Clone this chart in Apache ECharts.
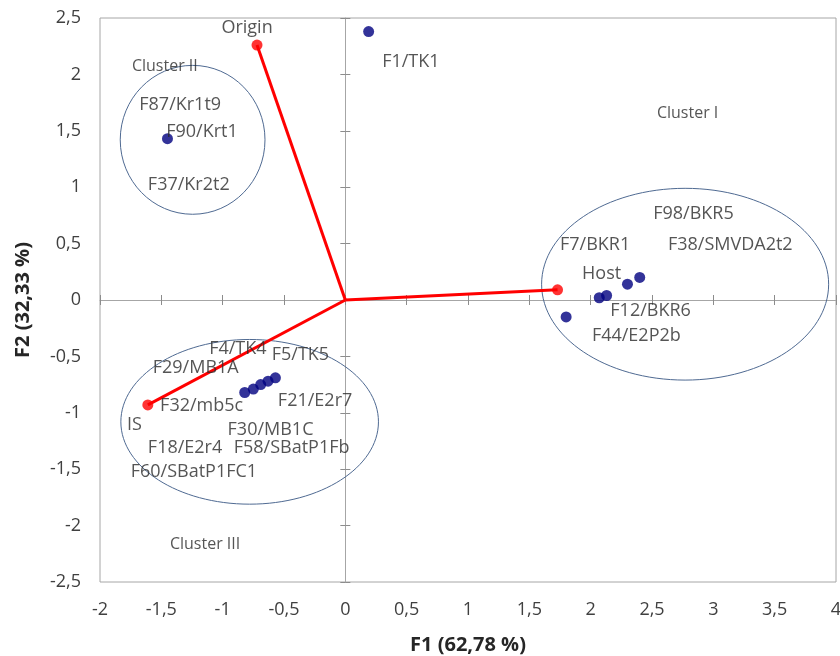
<!DOCTYPE html>
<html>
<head>
<meta charset="utf-8">
<script src="https://cdn.jsdelivr.net/npm/echarts@6/dist/echarts.min.js"></script>
<style>
html, body { margin: 0; padding: 0; background: #fff; }
#main { width: 840px; height: 656px; }
</style>
</head>
<body>
<div id="main"></div>
<script>
// points (F1, F2)
var bluePoints = [
	[0.19, 2.38],
	[-1.45, 1.43],
	[-0.82, -0.82], [-0.75, -0.79], [-0.69, -0.75], [-0.63, -0.72], [-0.57, -0.69],
	[2.40, 0.20], [2.30, 0.14], [2.13, 0.04], [2.07, 0.02], [1.80, -0.15]
];
// variables: Origin, Host, IS
var redVectors = [
	[-0.72, 2.26],
	[1.73, 0.09],
	[-1.61, -0.93]
];
// cluster ellipses: centre x, centre y, radius x, radius y (axis units)
var clusters = [
	[-1.245, 1.42, 0.59, 0.66],
	[-0.78, -1.08, 1.05, 0.73],
	[2.77, 0.14, 1.17, 0.85]
];
// text labels: x, y (left edge), text
var labels = [
	[-1.01, 2.41, 'Origin'],
	[-1.74, 2.07, 'Cluster II', 'small'],
	[-1.68, 1.73, 'F87/Kr1t9'],
	[-1.46, 1.49, 'F90/Krt1'],
	[-1.61, 1.02, 'F37/Kr2t2'],
	[0.30, 2.11, 'F1/TK1'],
	[2.54, 1.65, 'Cluster I', 'small'],
	[2.51, 0.76, 'F98/BKR5'],
	[1.75, 0.49, 'F7/BKR1'],
	[2.63, 0.49, 'F38/SMVDA2t2'],
	[1.93, 0.23, 'Host'],
	[2.16, -0.10, 'F12/BKR6'],
	[2.01, -0.32, 'F44/E2P2b'],
	[-1.11, -0.43, 'F4/TK4'],
	[-0.60, -0.49, 'F5/TK5'],
	[-1.57, -0.60, 'F29/MB1A'],
	[-1.51, -0.94, 'F32/mb5c'],
	[-0.55, -0.89, 'F21/E2r7'],
	[-1.78, -1.11, 'IS'],
	[-0.96, -1.15, 'F30/MB1C'],
	[-1.61, -1.31, 'F18/E2r4'],
	[-0.91, -1.31, 'F58/SBatP1Fb'],
	[-1.75, -1.52, 'F60/SBatP1FC1'],
	[-1.43, -2.17, 'Cluster III', 'small']
];
var xName = 'F1 (62,78 %)';
var yName = 'F2 (32,33 %)';

var fontFam = '"Open Sans", "Liberation Sans", sans-serif';
function fmt(v) { return String(v).replace('.', ','); }

var chart = echarts.init(document.getElementById('main'));

var series = [];
series.push({
	type: 'custom',
	renderItem: function (params, api) {
		var c = api.coord([api.value(0), api.value(1)]);
		var s = api.size([api.value(2), api.value(3)]);
		return {
			type: 'ellipse',
			shape: { cx: c[0], cy: c[1], rx: s[0], ry: s[1] },
			style: { fill: 'none', stroke: '#4f6a92', lineWidth: 1 }
		};
	},
	data: clusters,
	silent: true,
	z: 1
});
redVectors.forEach(function (v) {
	series.push({
		type: 'line',
		data: [[0, 0], v],
		showSymbol: false,
		lineStyle: { color: '#ff0000', width: 3 },
		silent: true,
		z: 3
	});
});
series.push({
	type: 'scatter',
	data: redVectors,
	symbolSize: 11,
	itemStyle: { color: '#ff0000' },
	z: 4
});
series.push({
	type: 'scatter',
	data: bluePoints,
	symbolSize: 11,
	itemStyle: { color: '#000080' },
	z: 4
});
series.push({
	type: 'scatter',
	data: labels.map(function (l) {
		return {
			value: [l[0], l[1]],
			label: l[3] === 'small' ? { fontSize: 16 } : {}
		};
	}),
	symbolSize: 0,
	label: {
		show: true,
		position: 'right',
		distance: 0,
		fontFamily: fontFam,
		fontSize: 18,
		color: '#2b2b2b',
		formatter: function (p) { return labels[p.dataIndex][2]; }
	},
	silent: true,
	z: 5
});

var tickStyle = { color: '#8c8c8c', width: 1 };
var option = {
	backgroundColor: '#fff',
	animation: false,
	grid: {
		left: 100, right: 4, top: 18, bottom: 74,
		outerBoundsMode: 'none',
		containLabel: false,
		show: true, borderColor: '#a6a6a6', borderWidth: 1
	},
	xAxis: [{
		type: 'value', min: -2, max: 4, interval: 0.5, position: 'bottom',
		axisLine: { show: false, onZero: false },
		axisTick: { show: false },
		splitLine: { show: false },
		axisLabel: { formatter: fmt, fontSize: 18, color: '#404040', fontFamily: fontFam, margin: 19 },
		name: xName, nameLocation: 'middle', nameGap: 53,
		nameTextStyle: { fontSize: 20, fontWeight: 'bold', color: '#262626', fontFamily: fontFam }
	}, {
		type: 'value', min: -2, max: 4, interval: 0.5, position: 'bottom',
		axisLine: { show: true, onZero: true, onZeroAxisIndex: 0, lineStyle: { color: '#a6a6a6', width: 1 } },
		axisTick: { show: true, length: 5, lineStyle: tickStyle },
		splitLine: { show: false },
		axisLabel: { show: false }
	}, {
		type: 'value', min: -2, max: 4, interval: 0.5, position: 'bottom',
		axisLine: { show: false, onZero: true, onZeroAxisIndex: 0 },
		axisTick: { show: true, inside: true, length: 5, lineStyle: tickStyle },
		splitLine: { show: false },
		axisLabel: { show: false }
	}],
	yAxis: [{
		type: 'value', min: -2.5, max: 2.5, interval: 0.5, position: 'left',
		axisLine: { show: false, onZero: false },
		axisTick: { show: false },
		splitLine: { show: false },
		axisLabel: { formatter: fmt, fontSize: 18, color: '#404040', fontFamily: fontFam, margin: 19 },
		name: yName, nameLocation: 'middle', nameGap: 67,
		nameTextStyle: { fontSize: 20, fontWeight: 'bold', color: '#262626', fontFamily: fontFam }
	}, {
		type: 'value', min: -2.5, max: 2.5, interval: 0.5, position: 'left',
		axisLine: { show: true, onZero: true, onZeroAxisIndex: 0, lineStyle: { color: '#a6a6a6', width: 1 } },
		axisTick: { show: true, length: 5, lineStyle: tickStyle },
		splitLine: { show: false },
		axisLabel: { show: false }
	}, {
		type: 'value', min: -2.5, max: 2.5, interval: 0.5, position: 'left',
		axisLine: { show: false, onZero: true, onZeroAxisIndex: 0 },
		axisTick: { show: true, inside: true, length: 5, lineStyle: tickStyle },
		splitLine: { show: false },
		axisLabel: { show: false }
	}],
	series: series
};
chart.setOption(option);
</script>
</body>
</html>
